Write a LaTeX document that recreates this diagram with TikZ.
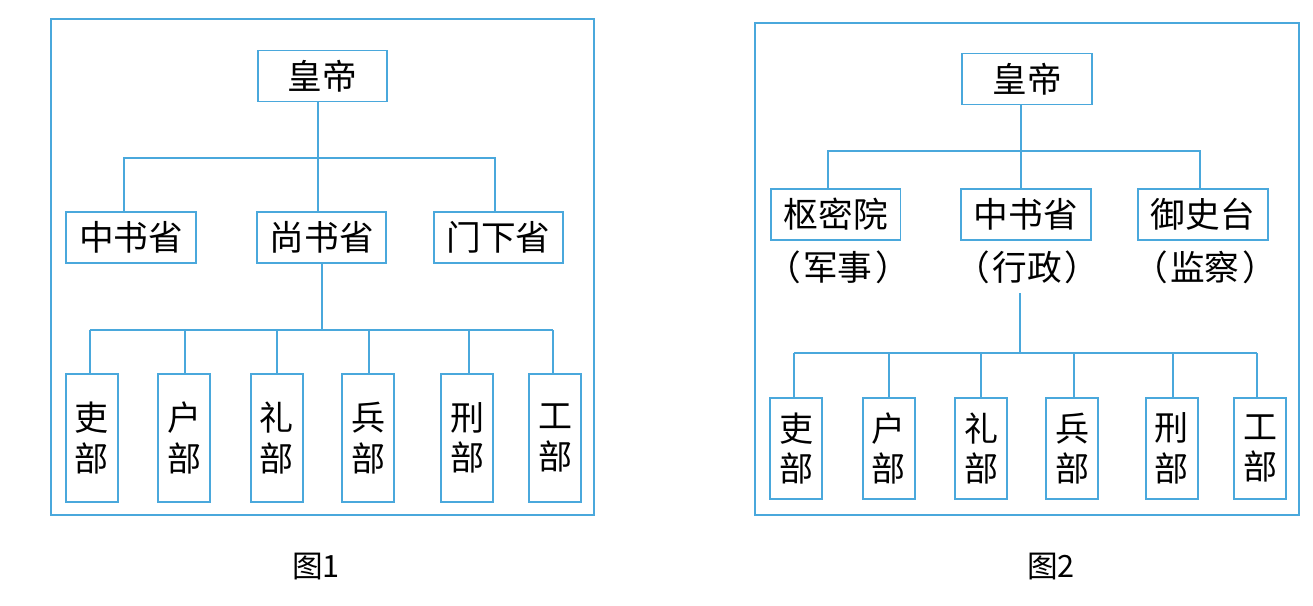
\documentclass[tikz,border=0pt]{standalone}
\usepackage{fontspec}
\setmainfont{Noto Sans CJK SC}
\usetikzlibrary{calc}
\definecolor{lineblue}{HTML}{4AA8DC}
\begin{document}
\begin{tikzpicture}[x=0.75pt,y=-0.75pt,
  line/.style={draw=lineblue,line width=1.4pt},
  box/.style={line,inner sep=0pt,minimum width=97pt,minimum height=38.25pt,font=\fontsize{26}{30}\selectfont},
  vbox/.style={line,inner sep=0pt,minimum width=39pt,align=center,font=\fontsize{25.5}{30.5}\selectfont},
  sublabel/.style={inner sep=0pt,font=\fontsize{26}{30}\selectfont},
  captext/.style={inner sep=0pt,font=\fontsize{23}{27}\selectfont}]
\useasboundingbox (0,0) rectangle (1313,606);

% ---------------- Figure 1 ----------------
\draw[line] (50.7,19.3) rectangle (593.8,515);
\node[box] (h1) at (322.5,76) {皇帝};
\node[box] (a1) at (131,237.5) {中书省};
\node[box] (b1) at (321.7,237.5) {尚书省};
\node[box] (c1) at (498.4,237.5) {门下省};
\coordinate (j1) at (318,157.7);
\coordinate (ja1) at (124,157.7);
\coordinate (jc1) at (494.6,157.7);
\draw[line] (h1.south -| j1) -- (b1.north -| j1);
\draw[line] (a1.north -| ja1) -- (ja1) -- (jc1) -- (c1.north -| jc1);

\node[vbox,minimum height=95.5pt] (d1) at (91.9,438) {吏\\部};
\node[vbox,minimum height=95.5pt] (d2) at (184.3,438) {户\\部};
\node[vbox,minimum height=95.5pt] (d3) at (276.8,438) {礼\\部};
\node[vbox,minimum height=95.5pt] (d4) at (368,438) {兵\\部};
\node[vbox,minimum height=95.5pt] (d5) at (467,438) {刑\\部};
\node[vbox,minimum height=95.5pt] (d6) at (555,438) {工\\部};
\coordinate (k1) at (322.4,330);
\coordinate (p1) at (89.7,330);
\coordinate (p2) at (184.7,330);
\coordinate (p3) at (277,330);
\coordinate (p4) at (369,330);
\coordinate (p5) at (468.6,330);
\coordinate (p6) at (552.8,330);
\draw[line] (b1.south -| k1) -- (k1);
\draw[line] (p1) -- (p6);
\foreach \i in {1,...,6} {\draw[line] (p\i) -- (d\i.north -| p\i);}
\node[captext] (cap1) at (316,567) {图1};

% ---------------- Figure 2 ----------------
\draw[line] (755.3,23.3) rectangle (1299,515);
\node[box] (h2) at (1027,79) {皇帝};
\node[box] (e2) at (835.8,214.5) {枢密院};
\node[box] (f2) at (1025.9,214.5) {中书省};
\node[box] (g2) at (1202.9,214.5) {御史台};
\node[sublabel] (le2) at (838,267) {（\hspace{2pt}军事\hspace{2pt}）};
\node[sublabel] (lf2) at (1027.5,267) {（\hspace{2pt}行政\hspace{2pt}）};
\node[sublabel] (lg2) at (1205,267) {（\hspace{2pt}监察\hspace{2pt}）};
\coordinate (j2) at (1021.4,150.7);
\coordinate (ja2) at (828.4,150.7);
\coordinate (jc2) at (1199.8,150.7);
\draw[line] (h2.south -| j2) -- (f2.north -| j2);
\draw[line] (e2.north -| ja2) -- (ja2) -- (jc2) -- (g2.north -| jc2);

\node[vbox,minimum height=76.2pt] (q1) at (796.4,448.5) {吏\\部};
\node[vbox,minimum height=76.2pt] (q2) at (888.9,448.5) {户\\部};
\node[vbox,minimum height=76.2pt] (q3) at (981.2,448.5) {礼\\部};
\node[vbox,minimum height=76.2pt] (q4) at (1072,448.5) {兵\\部};
\node[vbox,minimum height=76.2pt] (q5) at (1171.7,448.5) {刑\\部};
\node[vbox,minimum height=76.2pt] (q6) at (1260.2,448.5) {工\\部};
\coordinate (m2) at (1019.6,293);
\coordinate (k2) at (1019.6,353.3);
\coordinate (r1) at (794,353.3);
\coordinate (r2) at (888.8,353.3);
\coordinate (r3) at (981.2,353.3);
\coordinate (r4) at (1073.7,353.3);
\coordinate (r5) at (1173,353.3);
\coordinate (r6) at (1257,353.3);
\draw[line] (m2) -- (k2);
\draw[line] (r1) -- (r6);
\foreach \i in {1,...,6} {\draw[line] (r\i) -- (q\i.north -| r\i);}
\node[captext] (cap2) at (1051,567) {图2};
\end{tikzpicture}
\end{document}
